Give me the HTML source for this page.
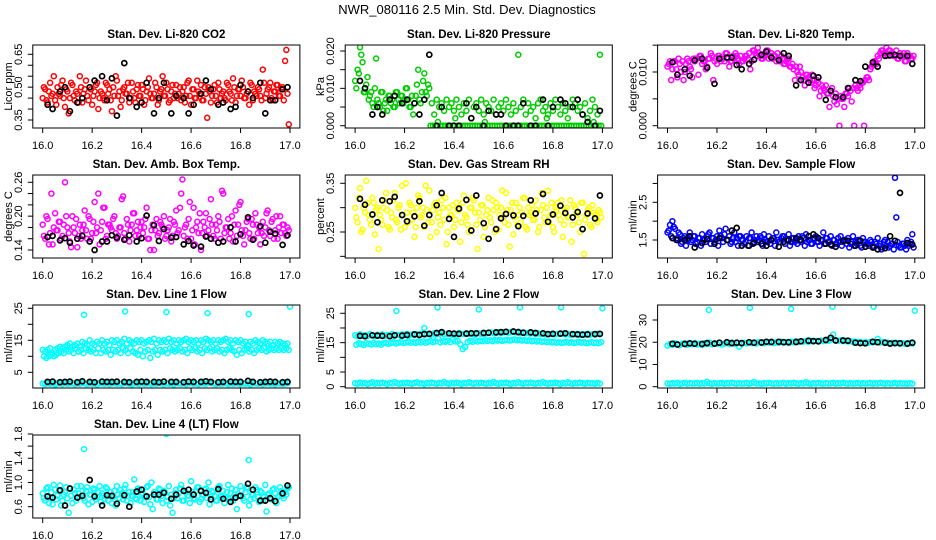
<!DOCTYPE html>
<html><head><meta charset="utf-8"><style>
html,body{margin:0;padding:0;background:#fff}
svg{display:block;font-family:"Liberation Sans",sans-serif}
</style></head><body>
<svg id="chart" width="936" height="540" viewBox="0 0 936 540">
<text x="467" y="14" text-anchor="middle" font-size="13">NWR_080116  2.5 Min. Std. Dev. Diagnostics</text>
</svg>
<script>
// ---- shared time axes ----
const timesA = [16.00,16.01,16.02,16.03,16.04,16.05,16.06,16.07,16.08,16.09,16.10,16.11,16.12,16.13,16.14,16.15,16.16,16.17,16.18,16.19,16.20,16.21,16.22,16.23,16.24,16.25,16.26,16.27,16.28,16.29,16.30,16.31,16.32,16.33,16.34,16.35,16.36,16.37,16.38,16.39,16.40,16.41,16.42,16.43,16.44,16.45,16.46,16.47,16.48,16.49,16.50,16.51,16.52,16.53,16.54,16.55,16.56,16.57,16.58,16.59,16.60,16.61,16.62,16.63,16.64,16.65,16.66,16.67,16.68,16.69,16.70,16.71,16.72,16.73,16.74,16.75,16.76,16.77,16.78,16.79,16.80,16.81,16.82,16.83,16.84,16.85,16.86,16.87,16.88,16.89,16.90,16.91,16.92,16.93,16.94,16.95,16.96,16.97,16.98,16.99];
const timesB = [16.005,16.015,16.025,16.035,16.045,16.055,16.065,16.075,16.085,16.095,16.105,16.115,16.125,16.135,16.145,16.155,16.165,16.175,16.185,16.195,16.205,16.215,16.225,16.235,16.245,16.255,16.265,16.275,16.285,16.295,16.305,16.315,16.325,16.335,16.345,16.355,16.365,16.375,16.385,16.395,16.405,16.415,16.425,16.435,16.445,16.455,16.465,16.475,16.485,16.495,16.505,16.515,16.525,16.535,16.545,16.555,16.565,16.575,16.585,16.595,16.605,16.615,16.625,16.635,16.645,16.655,16.665,16.675,16.685,16.695,16.705,16.715,16.725,16.735,16.745,16.755,16.765,16.775,16.785,16.795,16.805,16.815,16.825,16.835,16.845,16.855,16.865,16.875,16.885,16.895,16.905,16.915,16.925,16.935,16.945,16.955,16.965,16.975,16.985,16.995];
const blackTimes = [16.02,16.04,16.07,16.09,16.11,16.14,16.16,16.19,16.21,16.24,16.26,16.28,16.30,16.33,16.35,16.38,16.40,16.42,16.45,16.47,16.49,16.52,16.54,16.57,16.59,16.61,16.64,16.66,16.68,16.71,16.73,16.76,16.78,16.80,16.83,16.85,16.88,16.90,16.92,16.94,16.97,16.99];
const outlierTimes = [16.167,16.333,16.5,16.667,16.833,17.0];
const xTicks = [16.0,16.2,16.4,16.6,16.8,17.0];
const xTickLabels = ["16.0","16.2","16.4","16.6","16.8","17.0"];

// ---- panel 1: CO2 ----
const co2A = [0.45,0.49,0.43,0.52,0.47,0.44,0.50,0.46,0.53,0.41,0.48,0.45,0.51,0.44,0.47,0.55,0.43,0.49,0.46,0.50,0.42,0.48,0.52,0.45,0.47,0.44,0.51,0.49,0.39,0.46,0.53,0.48,0.44,0.50,0.47,0.43,0.52,0.45,0.49,0.46,0.51,0.42,0.48,0.54,0.45,0.47,0.50,0.44,0.49,0.46,0.52,0.43,0.48,0.45,0.51,0.47,0.44,0.50,0.46,0.53,0.42,0.49,0.45,0.48,0.51,0.44,0.47,0.50,0.43,0.49,0.46,0.52,0.45,0.48,0.44,0.51,0.47,0.54,0.43,0.49,0.46,0.50,0.45,0.48,0.52,0.44,0.47,0.50,0.46,0.58,0.45,0.49,0.52,0.44,0.48,0.51,0.46,0.50,0.62,0.47];
const co2B = [0.50,0.44,0.48,0.46,0.55,0.42,0.47,0.51,0.45,0.49,0.38,0.52,0.46,0.48,0.43,0.50,0.47,0.53,0.44,0.49,0.46,0.51,0.40,0.48,0.45,0.52,0.47,0.44,0.50,0.55,0.46,0.41,0.49,0.47,0.52,0.45,0.48,0.43,0.51,0.46,0.49,0.44,0.50,0.47,0.45,0.52,0.42,0.48,0.55,0.46,0.49,0.44,0.51,0.47,0.45,0.50,0.48,0.43,0.52,0.46,0.49,0.45,0.53,0.47,0.44,0.50,0.36,0.48,0.46,0.51,0.43,0.49,0.47,0.45,0.52,0.48,0.44,0.50,0.46,0.49,0.53,0.45,0.47,0.42,0.51,0.48,0.46,0.49,0.44,0.52,0.47,0.50,0.45,0.48,0.51,0.46,0.49,0.44,0.67,0.33];
const co2Black = [0.42,0.40,0.48,0.50,0.39,0.43,0.45,0.50,0.53,0.55,0.44,0.54,0.37,0.61,0.45,0.41,0.43,0.52,0.38,0.45,0.52,0.38,0.46,0.45,0.38,0.42,0.47,0.53,0.49,0.42,0.43,0.40,0.41,0.51,0.48,0.45,0.52,0.38,0.44,0.44,0.49,0.50];

// ---- panel 2: pressure ----
const presA = [0.012,0.015,0.021,0.017,0.009,0.013,0.008,0.006,0.010,0.007,0.005,0.009,0.006,0.004,0.008,0.007,0.005,0.009,0.006,0.008,0.007,0.010,0.005,0.008,0.006,0.011,0.007,0.009,0.014,0.008,0.010,0.006,0.003,0.007,0.005,0.006,0.004,0.007,0.005,0.006,0.004,0.007,0.005,0.003,0.006,0.004,0.007,0.002,0.005,0.006,0.004,0.007,0.003,0.006,0.005,0.004,0.007,0.003,0.005,0.006,0.004,0.007,0.005,0.003,0.006,0.004,0.019,0.005,0.007,0.003,0.006,0.004,0.005,0.002,0.006,0.007,0.004,0.005,0.003,0.006,0.004,0.007,0.005,0.003,0.006,0.004,0.002,0.005,0.007,0.006,0.004,0.005,0.003,0.006,0.002,0.004,0.007,0.005,0.003,0.019];
const presB = [0.010,0.014,0.019,0.009,0.011,0.007,0.009,0.005,0.018,0.006,0.009,0.004,0.007,0.008,0.006,0.005,0.009,0.007,0.008,0.006,0.010,0.007,0.005,0.003,0.008,0.015,0.006,0.012,0.009,0.011,0,0,0,0.001,0,0,0,0,0,0,0.002,0,0,0,0,0,0,0,0,0,0,0,0.001,0,0,0,0,0,0,0,0,0,0,0,0,0,0,0,0,0,0,0,0,0,0,0,0,0.002,0,0,0,0,0,0,0,0,0,0,0,0,0,0,0,0,0,0,0.001,0,0,0];
const presBlack = [0.012,0.010,0.003,0.005,0.003,0.007,0.008,0.006,0.007,0.006,0.003,0.007,0.019,0.000,0.005,0.000,0.000,0.000,0.006,0.002,0.005,0.000,0.004,0.003,0.003,0.000,0.000,0.000,0.006,0.000,0.000,0.007,0.000,0.005,0.007,0.006,0.005,0.007,0.003,0.001,0.000,0.004];

// ---- panel 3: Li-820 temp ----
const tempA = [0.011,0.012,0.0105,0.012,0.009,0.0115,0.012,0.010,0.0125,0.011,0.009,0.012,0.0125,0.013,0.0115,0.012,0.011,0.0125,0.013,0.012,0.0115,0.013,0.0125,0.012,0.0135,0.011,0.012,0.0125,0.013,0.0115,0.012,0.0125,0.013,0.0135,0.012,0.014,0.013,0.0135,0.0125,0.013,0.014,0.0125,0.0135,0.013,0.012,0.0125,0.013,0.0115,0.012,0.0125,0.011,0.0105,0.011,0.0095,0.010,0.0085,0.0095,0.009,0.008,0.0085,0.0075,0.008,0.0065,0.007,0.0075,0.006,0.0065,0.0055,0.006,0.005,0.0055,0.005,0.006,0.0055,0.0065,0.007,0.0075,0.0065,0.007,0.008,0.0085,0.009,0.0105,0.0115,0.012,0.013,0.0135,0.014,0.0135,0.013,0.014,0.0135,0.013,0.0125,0.0135,0.013,0.012,0.0135,0.013,0.0125];
const tempB = [0.0115,0.0085,0.012,0.0105,0.0125,0.010,0.0085,0.0115,0.012,0.0105,0.0125,0.0125,0.0095,0.013,0.012,0.0105,0.0125,0.0135,0.0085,0.0125,0.013,0.012,0.0125,0.0135,0.0125,0.012,0.013,0.0135,0.0125,0.013,0.012,0.013,0.0125,0.0105,0.014,0.0135,0.0145,0.013,0.0125,0.0135,0.014,0.013,0.0125,0.013,0.0135,0.012,0.0125,0.0115,0.0125,0.011,0.0115,0.0085,0.010,0.011,0.009,0.0075,0.0095,0.0085,0.0095,0.007,0.0085,0.0055,0.0075,0.0065,0.006,0.0035,0.007,0.0045,0.004,0,0.005,0.0035,0.006,0.007,0.0045,0,0.007,0.0075,0.008,0,0.009,0.0085,0.011,0.012,0.0115,0.0125,0.014,0.0135,0.0145,0.014,0.0135,0.013,0.014,0.0125,0.013,0.0135,0.012,0.013,0.0125,0.013];
const tempBlack = [0.0118,0.0095,0.0105,0.0093,0.0122,0.0125,0.0108,0.0078,0.0125,0.0127,0.0127,0.0113,0.0105,0.0115,0.0123,0.0132,0.0138,0.0127,0.0122,0.0135,0.0130,0.0075,0.0085,0.0080,0.0093,0.0090,0.0048,0.0065,0.0053,0.0053,0.0070,0.0085,0.0083,0.0110,0.0118,0.0110,0.0130,0.0131,0.0132,0.0130,0.0130,0.0115];

// ---- panel 4: ambient box temp ----
const ambA = [0.185,0.160,0.195,0.170,0.150,0.205,0.175,0.190,0.165,0.260,0.180,0.155,0.200,0.170,0.145,0.185,0.175,0.210,0.160,0.195,0.170,0.225,0.180,0.150,0.190,0.215,0.165,0.185,0.175,0.200,0.160,0.180,0.230,0.170,0.195,0.155,0.185,0.205,0.175,0.165,0.190,0.180,0.215,0.160,0.175,0.140,0.195,0.170,0.185,0.200,0.165,0.180,0.155,0.190,0.210,0.175,0.240,0.165,0.185,0.195,0.160,0.215,0.180,0.170,0.140,0.190,0.205,0.175,0.230,0.165,0.185,0.200,0.160,0.240,0.180,0.195,0.170,0.155,0.210,0.185,0.225,0.165,0.175,0.195,0.160,0.185,0.205,0.170,0.150,0.190,0.180,0.210,0.165,0.195,0.175,0.160,0.200,0.185,0.170,0.180];
const ambB = [0.165,0.200,0.150,0.240,0.180,0.175,0.190,0.160,0.185,0.200,0.170,0.145,0.180,0.195,0.165,0.160,0.185,0.175,0.200,0.160,0.190,0.170,0.240,0.175,0.215,0.160,0.185,0.180,0.195,0.170,0.165,0.180,0.235,0.160,0.185,0.175,0.205,0.165,0.190,0.180,0.170,0.195,0.160,0.140,0.185,0.175,0.165,0.190,0.180,0.160,0.175,0.195,0.165,0.185,0.170,0.215,0.265,0.180,0.160,0.225,0.175,0.150,0.190,0.205,0.170,0.180,0.165,0.195,0.185,0.160,0.175,0.190,0.245,0.170,0.180,0.160,0.200,0.185,0.165,0.220,0.175,0.150,0.190,0.170,0.195,0.160,0.185,0.180,0.170,0.165,0.205,0.175,0.190,0.160,0.200,0.180,0.170,0.185,0.165,0.175];
const ambBlack = [0.163,0.165,0.157,0.161,0.153,0.160,0.165,0.155,0.140,0.155,0.155,0.166,0.162,0.158,0.166,0.155,0.161,0.201,0.184,0.156,0.177,0.162,0.163,0.150,0.156,0.148,0.146,0.164,0.160,0.153,0.155,0.180,0.155,0.168,0.198,0.158,0.182,0.153,0.172,0.169,0.149,0.166];

// ---- panel 5: gas stream RH ----
const rhA = [0.300,0.270,0.340,0.255,0.290,0.310,0.275,0.320,0.245,0.300,0.285,0.265,0.315,0.295,0.255,0.280,0.330,0.270,0.305,0.345,0.260,0.290,0.310,0.275,0.240,0.300,0.320,0.285,0.260,0.295,0.335,0.270,0.305,0.250,0.290,0.315,0.275,0.225,0.300,0.285,0.260,0.310,0.295,0.270,0.325,0.280,0.250,0.300,0.315,0.265,0.290,0.305,0.240,0.285,0.320,0.270,0.295,0.310,0.255,0.300,0.280,0.330,0.265,0.295,0.245,0.310,0.285,0.270,0.320,0.260,0.300,0.290,0.275,0.315,0.250,0.295,0.305,0.270,0.335,0.285,0.260,0.300,0.310,0.275,0.240,0.295,0.280,0.315,0.265,0.300,0.285,0.250,0.310,0.275,0.295,0.265,0.305,0.285,0.270,0.290];
const rhB = [0.280,0.320,0.250,0.300,0.355,0.285,0.265,0.310,0.295,0.215,0.275,0.300,0.330,0.260,0.290,0.315,0.275,0.300,0.255,0.285,0.350,0.270,0.305,0.290,0.260,0.325,0.280,0.300,0.345,0.270,0.240,0.295,0.310,0.280,0.265,0.300,0.320,0.250,0.285,0.305,0.275,0.295,0.230,0.310,0.285,0.265,0.300,0.320,0.290,0.215,0.275,0.305,0.260,0.295,0.280,0.315,0.250,0.300,0.285,0.335,0.270,0.295,0.220,0.310,0.280,0.265,0.300,0.290,0.320,0.255,0.285,0.305,0.275,0.295,0.260,0.330,0.280,0.300,0.270,0.310,0.250,0.295,0.285,0.315,0.265,0.300,0.280,0.230,0.305,0.290,0.270,0.310,0.205,0.285,0.300,0.260,0.290,0.275,0.295,0.280];
const rhBlack = [0.318,0.306,0.286,0.270,0.315,0.313,0.322,0.285,0.272,0.282,0.313,0.263,0.285,0.305,0.330,0.277,0.240,0.298,0.316,0.253,0.325,0.268,0.236,0.256,0.278,0.287,0.284,0.262,0.283,0.315,0.288,0.328,0.271,0.286,0.304,0.289,0.280,0.291,0.256,0.288,0.278,0.325];

// ---- panel 6: sample flow ----
const sfA = [1.70,1.90,2.00,1.80,1.55,1.65,1.45,1.60,1.55,1.70,1.50,1.60,1.45,1.55,1.65,1.50,1.60,1.70,1.55,1.45,1.60,1.75,1.55,1.65,1.50,1.60,1.45,1.70,1.55,1.60,1.50,1.40,1.60,1.55,1.70,1.45,1.60,1.50,1.55,1.65,1.45,1.60,1.50,1.55,1.70,1.45,1.55,1.60,1.50,1.65,1.45,1.55,1.50,1.60,1.45,1.55,1.65,1.50,1.40,1.55,1.60,1.45,1.50,1.70,1.55,1.45,1.60,1.50,1.40,1.55,1.60,1.45,1.50,1.55,1.40,1.60,1.45,1.50,1.35,1.55,1.45,1.40,1.50,1.35,1.45,1.55,1.40,1.30,1.50,1.45,1.35,1.40,3.15,1.45,1.30,1.40,1.35,1.50,1.40,1.65];
const sfB = [1.75,1.60,1.85,1.50,1.70,1.40,1.55,1.35,1.50,1.45,1.60,1.40,1.55,1.35,1.50,1.45,1.65,1.40,1.55,1.50,1.35,1.60,1.45,1.80,1.50,1.40,1.55,1.45,1.35,1.60,1.50,1.45,1.35,1.55,1.40,1.50,1.45,1.60,1.35,1.50,1.45,1.40,1.55,1.35,1.50,1.45,1.60,1.40,1.50,1.35,1.55,1.45,1.40,1.50,1.60,1.35,1.45,1.50,1.40,1.55,1.45,1.35,1.50,1.40,1.55,1.45,1.35,1.50,1.40,1.45,1.35,1.50,1.40,1.30,1.45,1.35,1.40,1.50,1.30,1.45,1.40,1.35,1.45,1.30,1.40,1.35,1.25,1.45,1.35,1.30,1.40,1.25,2.10,1.35,1.30,1.40,1.25,1.35,1.45,1.30];
const sfBlack = [1.55,1.50,1.50,1.60,1.30,1.42,1.52,1.40,1.55,1.50,1.75,1.82,1.35,1.35,1.42,1.40,1.35,1.50,1.32,1.45,1.50,1.55,1.50,1.60,1.65,1.55,1.40,1.38,1.32,1.48,1.48,1.35,1.48,1.32,1.30,1.25,1.28,1.60,1.48,2.75,1.42,1.38];

// ---- panel 7: line 1 flow ----
const l1A = [12,11.5,12,12.5,11,12,12.5,13,12.5,13,13.5,14,13,13.5,14,13,14.5,14,13.5,15,14,13.5,14.5,14,15,14,14.5,13.5,15,14.5,15,14,14.5,15.5,14,15,14.5,14,15,14.5,15,14,14.5,15,14.5,15.5,14,15,14.5,15,14.5,15.5,14.5,15,14,15,14.5,15,15.5,14.5,15,14.5,15,14,15,14.5,15.5,15,14.5,15,14,15,14.5,15,15.5,14.5,15,14,15,14.5,15,14,14.5,13.5,14.5,14,15,14.5,14,15,14.5,14,14.5,13.5,14.5,14,14.5,14,13.5,14];
const l1B = [10,9.5,10,10.5,10,10.5,11,11.5,11,12,11.5,12,11,12.5,11.5,12,11,12.5,12,11.5,12,11,12.5,11,12,11.5,12,10.5,12,11.5,12,11,12.5,12,11,12.5,11.5,11,10.5,12,10,11.5,12,9.5,11.5,12,10.5,12,11.5,12,11,12.5,12,11.5,12,12.5,11.5,12,11,12.5,12,12.5,11.5,12,11,12.5,12,12.5,11.5,12,12.5,11.5,12,11,12,12.5,12,11.5,10.5,12,11,12,12.5,11.5,12,11,12,12.5,12,12.5,11.5,12,12.5,12,12.5,12,12.5,12,12.5,12];
const l1Low = [1.5,1.3,1.6,1.4,1.5,1.2,1.6,1.5,1.3,1.7,1.4,1.5,1.6,1.3,1.5,1.4,1.8,1.5,1.3,1.6,1.4,1.5,1.2,1.6,1.5,1.4,1.7,1.3,1.5,1.6,1.4,1.5,1.3,1.6,1.5,1.4,1.2,1.6,1.5,1.3,1.7,1.4,1.5,1.6,1.3,1.5,1.4,1.6,1.5,1.3,1.6,1.4,1.5,1.2,1.6,1.5,1.4,1.7,1.3,1.5,1.6,1.4,1.5,1.3,1.6,1.5,1.4,1.8,1.6,1.5,1.3,1.7,1.4,1.5,1.6,1.3,1.5,1.4,1.6,1.5,1.3,1.6,1.4,1.5,1.2,1.6,1.5,1.4,1.7,1.3,1.5,1.6,1.4,1.5,1.3,1.6,1.5,1.4,1.5,1.6];
const l1Out = [23,24,23.8,23.5,23.2,25.5];
const l1Black = [2.0,2.1,1.9,2.0,2.1,1.9,2.2,2.0,1.9,2.1,2.0,2.0,2.1,2.0,1.9,2.0,2.1,2.0,2.0,1.9,2.1,2.0,2.0,1.9,2.1,2.0,2.0,2.2,2.0,1.9,2.0,2.1,2.0,2.0,2.3,2.0,1.9,2.0,2.1,2.0,1.9,2.0];

// ---- panel 8: line 2 flow ----
const l2A = [17.5,17.2,17.8,17.4,17.6,17.3,17.9,17.5,17.2,17.7,17.4,17.8,17.3,17.6,17.5,17.9,17.4,17.7,17.5,17.8,17.6,18.0,17.5,17.8,17.6,17.9,17.7,18.1,20.0,17.8,18.0,17.7,18.2,17.9,18.1,18.3,17.8,18.0,18.2,17.9,18.1,17.8,18.3,18.0,17.9,18.2,18.0,18.3,17.9,18.1,18.2,18.0,18.4,18.1,18.3,18.5,18.2,18.4,18.6,18.3,18.5,18.7,18.4,18.6,18.8,18.5,18.7,18.3,18.5,18.2,18.4,18.1,18.3,18.0,18.2,17.9,18.1,17.8,18.0,17.9,18.1,17.8,18.0,17.9,18.1,17.8,18.0,17.7,17.9,17.8,18.0,17.7,17.9,17.8,18.0,17.7,17.9,17.8,18.0,17.9];
const l2B = [14.3,14.8,14.5,14.2,14.9,14.6,14.4,15.0,14.5,14.7,14.3,14.8,15.0,14.6,14.9,15.2,14.7,15.0,15.3,14.9,15.1,15.4,15.0,15.2,14.9,15.3,15.1,15.5,15.0,15.3,15.6,15.2,15.4,16.5,15.1,15.5,15.3,15.7,15.2,16.0,15.4,15.6,14.5,12.8,13.5,15.2,15.6,15.3,15.8,15.4,15.7,15.5,15.9,15.6,15.8,15.5,15.9,15.7,16.0,15.6,15.8,16.0,15.7,15.9,16.1,15.8,16.0,15.7,15.9,15.6,15.8,15.5,15.7,15.4,15.6,15.3,15.5,15.2,15.4,15.1,15.3,15.0,15.2,14.9,15.1,15.3,15.0,15.2,14.9,15.1,15.3,15.0,15.2,14.8,15.0,15.2,14.9,15.1,14.8,15.2];
const l2Low = [1.2,1.0,1.4,1.1,1.3,0.9,1.2,1.5,1.0,1.3,1.1,1.4,1.2,0.9,1.3,1.1,1.6,1.2,1.0,1.3,1.1,1.4,1.2,1.0,1.3,1.5,1.1,1.2,0.9,1.3,1.1,1.4,1.2,1.0,1.3,1.1,1.6,1.2,1.0,1.3,1.1,1.4,1.2,0.9,1.3,1.1,1.5,1.2,1.0,1.3,1.1,1.4,1.2,1.0,1.3,1.1,1.6,1.2,1.0,1.3,1.1,1.4,1.2,0.9,1.3,1.1,1.5,1.2,1.0,1.3,1.1,1.4,1.2,1.0,1.3,1.1,1.6,1.2,1.0,1.3,1.1,1.4,1.2,0.9,1.3,1.1,1.5,1.2,1.0,1.3,1.1,1.4,1.2,1.0,1.3,1.1,1.2,1.0,1.3,1.1];
const l2Out = [25.8,27,26.3,27,27,26.7];
const l2Black = [17.3,17.2,17.5,17.4,17.3,17.2,17.5,17.4,17.6,17.8,17.6,17.9,18.0,18.3,18.6,18.2,18.1,18.0,18.1,18.2,18.2,18.3,18.4,18.5,18.6,18.7,18.8,18.6,18.4,18.5,18.3,18.2,17.9,18.0,18.1,18.2,17.9,17.8,17.7,17.8,17.9,18.0];

// ---- panel 9: line 3 flow ----
const l3A = [18.5,19.2,18.8,19.5,19.0,18.7,19.3,19.6,18.9,19.4,19.1,19.7,19.0,19.3,18.8,19.6,19.2,19.9,19.1,19.5,19.3,19.8,19.0,19.4,19.7,19.2,19.9,19.3,19.6,18.0,19.4,19.8,19.5,20.0,19.6,19.9,19.4,20.1,19.7,19.5,20.0,19.8,20.2,19.6,20.0,19.8,20.3,19.9,20.1,19.7,20.2,20.0,20.4,20.1,20.5,20.3,20.6,20.2,20.7,20.4,20.6,20.3,20.8,20.5,20.9,20.6,21.0,23.5,20.8,20.6,20.9,20.5,20.7,20.3,20.5,20.1,20.3,19.9,20.1,19.8,20.0,19.7,20.1,19.9,20.2,21.5,19.9,20.1,19.7,19.9,19.6,19.8,19.5,19.7,19.4,19.6,19.3,19.5,19.7,19.4];
const l3Low = [1.5,1.3,1.6,1.4,1.7,1.2,1.5,1.8,1.3,1.6,1.4,1.5,1.7,1.3,1.6,1.4,2.2,1.5,1.3,1.6,1.4,1.5,1.7,1.3,1.6,1.4,1.8,1.5,1.3,1.6,1.4,1.5,1.7,1.3,1.6,2.1,1.4,1.5,1.3,1.6,1.4,1.7,1.5,1.3,1.6,1.4,1.5,1.7,1.3,1.6,1.4,1.8,1.5,1.3,1.6,1.4,2.0,1.5,1.3,1.6,1.4,1.7,1.5,1.3,1.6,1.4,1.5,1.7,1.3,1.6,1.4,1.8,1.5,1.3,1.6,1.4,1.5,1.7,1.3,1.6,1.4,1.5,1.7,1.3,1.6,1.4,1.8,1.5,1.3,1.6,1.4,1.5,1.7,1.3,1.6,1.4,1.5,1.3,1.6,1.4];
const l3Out = [34.5,35.5,35,36,36,34.2];
const l3Black = [19.3,19.0,19.2,19.5,19.3,19.2,19.6,19.4,19.8,20.0,19.6,19.8,19.6,20.0,19.8,19.9,20.2,20.1,20.2,20.0,20.0,20.1,20.4,20.7,20.5,20.4,21.0,22.0,20.8,20.8,20.7,19.8,19.6,19.5,20.2,20.0,19.8,19.4,19.6,19.5,19.4,19.8];

// ---- panel 10: line 4 (LT) flow ----
const l4A = [0.82,0.70,0.92,0.76,0.64,0.88,0.78,0.95,0.70,0.84,0.74,0.90,0.66,0.82,0.94,0.76,0.86,0.70,0.92,0.80,0.68,0.88,0.76,0.94,0.82,0.72,0.90,0.78,0.66,0.86,0.94,0.74,0.82,0.90,0.70,0.84,0.78,1.05,0.72,0.88,0.80,0.68,0.92,0.76,1.00,0.84,0.72,0.90,0.78,0.86,0.70,0.94,0.80,0.74,0.88,0.82,0.96,0.70,0.84,0.78,1.02,0.74,0.86,0.92,0.72,0.80,0.90,1.00,0.76,0.84,0.70,0.92,0.78,0.86,0.74,0.96,0.82,0.70,0.88,0.78,0.94,0.74,0.84,0.90,0.72,0.80,0.92,0.76,0.86,0.70,0.96,0.80,0.74,0.88,0.82,0.76,0.92,0.78,0.84,0.90];
const l4B = [0.74,0.90,0.66,0.84,0.96,0.72,0.86,0.62,0.80,0.92,0.50,0.78,0.88,0.70,0.82,0.94,0.74,0.86,0.64,0.80,0.90,0.72,0.84,0.68,0.78,0.92,0.70,0.84,0.76,0.62,0.80,0.88,0.72,0.96,0.78,0.66,0.84,0.74,0.90,0.70,0.82,0.76,0.94,0.64,0.56,0.80,0.72,0.88,0.66,0.84,0.76,0.62,0.50,0.82,0.74,0.90,0.70,0.86,0.78,0.66,0.84,0.72,0.92,0.68,0.80,0.88,0.74,0.64,0.86,0.78,0.70,0.94,0.76,0.66,0.84,0.72,0.90,0.80,0.56,0.78,0.86,0.70,0.92,0.62,0.80,0.74,0.88,0.68,0.84,0.76,0.52,0.82,0.72,0.90,0.66,0.78,0.86,0.74,0.80,0.92];
const l4Out = [1.55,null,1.8,null,1.37,null];
const l4Black = [0.77,0.75,0.87,0.62,0.90,0.75,0.78,1.04,0.77,0.62,0.79,0.78,0.65,0.79,0.60,0.85,0.88,0.77,0.80,0.80,0.83,0.73,0.80,0.86,0.88,0.80,0.86,0.83,0.72,0.89,0.73,0.68,0.75,0.78,0.98,0.88,0.70,0.70,0.74,0.69,0.82,0.95];

// ---- y axis tick values and labels per panel ----
const yTicks1 = [0.35,0.40,0.45,0.50,0.55,0.60,0.65], yLabels1 = ["0.35","","","0.50","","","0.65"];
const yTicks2 = [0.000,0.005,0.010,0.015,0.020], yLabels2 = ["0.000","","0.010","","0.020"];
const yTicks3 = [0.000,0.005,0.010,0.015], yLabels3 = ["0.000","","0.010",""];
const yTicks4 = [0.14,0.16,0.18,0.20,0.22,0.24,0.26], yLabels4 = ["0.14","","","0.20","","","0.26"];
const yTicks5 = [0.20,0.25,0.30,0.35], yLabels5 = ["","0.25","","0.35"];
const yTicks6 = [1.5,2.0,2.5,3.0], yLabels6 = ["1.5","","2.5",""];
const yTicks7 = [5,10,15,20,25], yLabels7 = ["5","","15","","25"];
const yTicks8 = [0,5,10,15,20,25], yLabels8 = ["0","5","","15","","25"];
const yTicks9 = [0,10,20,30], yLabels9 = ["0","10","20","30"];
const yTicks10 = [0.6,0.8,1.0,1.2,1.4,1.6,1.8], yLabels10 = ["0.6","","1.0","","1.4","","1.8"];

// ---- layout (not data) ----
const svg = document.getElementById('chart');
const NS = 'http://www.w3.org/2000/svg';
function mk(tag, attrs){const e=document.createElementNS(NS,tag);for(const k in attrs)e.setAttribute(k,attrs[k]);return e;}

const panels = [
 {title:"Stan. Dev. Li-820 CO2", ylab:"Licor ppm", col:0,row:0, v1:0.35,p1:120,v2:0.65,p2:54.3, ticks:yTicks1,labels:yLabels1,
  series:[[timesA,co2A,"#ff0000"],[timesB,co2B,"#ff0000"],[blackTimes,co2Black,"#000"]]},
 {title:"Stan. Dev. Li-820 Pressure", ylab:"kPa", col:1,row:0, v1:0,p1:125.7,v2:0.02,p2:51, ticks:yTicks2,labels:yLabels2,
  series:[[timesA,presA,"#00cd00"],[timesB,presB,"#00cd00"],[blackTimes,presBlack,"#000"]]},
 {title:"Stan. Dev. Li-820 Temp.", ylab:"degrees C", col:2,row:0, v1:0,p1:125.7,v2:0.01,p2:72, ticks:yTicks3,labels:yLabels3,
  series:[[timesA,tempA,"#ff00ff"],[timesB,tempB,"#ff00ff"],[blackTimes,tempBlack,"#000"]]},
 {title:"Stan. Dev. Amb. Box Temp.", ylab:"degrees C", col:0,row:1, v1:0.14,p1:250,v2:0.26,p2:182.3, ticks:yTicks4,labels:yLabels4,
  series:[[timesA,ambA,"#ff00ff"],[timesB,ambB,"#ff00ff"],[blackTimes,ambBlack,"#000"]]},
 {title:"Stan. Dev. Gas Stream RH", ylab:"percent", col:1,row:1, v1:0.25,p1:232,v2:0.35,p2:183.3, ticks:yTicks5,labels:yLabels5,
  series:[[timesA,rhA,"#ffff00"],[timesB,rhB,"#ffff00"],[blackTimes,rhBlack,"#000"]]},
 {title:"Stan. Dev. Sample Flow", ylab:"ml/min", col:2,row:1, v1:1.5,p1:240,v2:2.5,p2:202.3, ticks:yTicks6,labels:yLabels6,
  series:[[timesA,sfA,"#0000ff"],[timesB,sfB,"#0000ff"],[blackTimes,sfBlack,"#000"]]},
 {title:"Stan. Dev. Line 1 Flow", ylab:"ml/min", col:0,row:2, v1:5,p1:372.3,v2:25,p2:308.3, ticks:yTicks7,labels:yLabels7,
  series:[[timesA,l1A,"#00ffff"],[timesB,l1B,"#00ffff"],[timesA,l1Low,"#00ffff"],[outlierTimes,l1Out,"#00ffff"],[blackTimes,l1Black,"#000"]]},
 {title:"Stan. Dev. Line 2 Flow", ylab:"ml/min", col:1,row:2, v1:0,p1:386.7,v2:25,p2:313.3, ticks:yTicks8,labels:yLabels8,
  series:[[timesA,l2A,"#00ffff"],[timesB,l2B,"#00ffff"],[timesA,l2Low,"#00ffff"],[outlierTimes,l2Out,"#00ffff"],[blackTimes,l2Black,"#000"]]},
 {title:"Stan. Dev. Line 3 Flow", ylab:"ml/min", col:2,row:2, v1:0,p1:386.7,v2:30,p2:320, ticks:yTicks9,labels:yLabels9,
  series:[[timesA,l3A,"#00ffff"],[timesA,l3Low,"#00ffff"],[outlierTimes,l3Out,"#00ffff"],[blackTimes,l3Black,"#000"]]},
 {title:"Stan. Dev. Line 4 (LT) Flow", ylab:"ml/min", col:0,row:3, v1:0.6,p1:506.7,v2:1.8,p2:434, ticks:yTicks10,labels:yLabels10,
  series:[[timesA,l4A,"#00ffff"],[timesB,l4B,"#00ffff"],[outlierTimes,l4Out,"#00ffff"],[blackTimes,l4Black,"#000"]]}
];
const seriesNames = ["series-a","series-b","series-c","series-d","series-e"];

panels.forEach((p,pi)=>{
  const x0 = 42.7 + p.col*312.4, pxPerUnit = 247.3;
  const left = x0 - 0.04*pxPerUnit, right = x0 + 1.04*pxPerUnit;
  const top = 45 + p.row*130, bottom = top + 83;
  const xs = t => x0 + (t-16)*pxPerUnit;
  const ys = v => p.p1 + (v-p.v1)*(p.p2-p.p1)/(p.v2-p.v1);
  const g = mk('g',{});
  
  
  svg.appendChild(g);
  const clip = mk('clipPath',{id:'c'+pi});
  clip.appendChild(mk('rect',{x:left,y:top,width:right-left,height:bottom-top}));
  g.appendChild(clip);
  const t = mk('text',{x:(left+right)/2,y:top-7,'text-anchor':'middle','font-size':'11.5','font-weight':'bold'});
  t.textContent = p.title;
  
  
  g.appendChild(t);
  const yl = mk('text',{x:0,y:0,'text-anchor':'middle','font-size':'11',transform:`translate(${left-21},${(top+bottom)/2}) rotate(-90)`});
  yl.textContent = p.ylab;
  
  
  g.appendChild(yl);
  const pg = mk('g',{'clip-path':`url(#c${pi})`,fill:'none'});
  
  
  g.appendChild(pg);
  p.series.forEach((s,si)=>{
    const [tt,vv,col] = s;
    const sg = mk('g',{stroke:col,'stroke-width':col==="#000"?1.7:1.5});
    
    
    pg.appendChild(sg);
    vv.forEach((v,i)=>{
      if(v===null || tt[i]===undefined) return;
      const c = mk('circle',{cx:xs(tt[i]).toFixed(1),cy:ys(v).toFixed(1),r:2.5});
      
      
      sg.appendChild(c);
    });
  });
  const box = mk('rect',{x:left,y:top,width:right-left,height:bottom-top,fill:'none',stroke:'#000','stroke-width':1});
  
  
  g.appendChild(box);
  xTicks.forEach((xv,i)=>{
    const X = xs(xv);
    const tl = mk('line',{x1:X,x2:X,y1:bottom,y2:bottom+5,stroke:'#000'});
    
    
    g.appendChild(tl);
    const lb = mk('text',{x:X,y:bottom+21,'text-anchor':'middle','font-size':'11'});
    lb.textContent = xTickLabels[i];
    
    
    g.appendChild(lb);
  });
  p.ticks.forEach((yv,i)=>{
    const Y = ys(yv);
    const tl = mk('line',{x1:left-5,x2:left,y1:Y,y2:Y,stroke:'#000'});
    
    
    g.appendChild(tl);
    if(p.labels[i]){
      const lb = mk('text',{x:0,y:0,'text-anchor':'middle','font-size':'11',transform:`translate(${left-11},${Y}) rotate(-90)`});
      lb.textContent = p.labels[i];
      
      
      g.appendChild(lb);
    }
  });
});
</script>
</body></html>
